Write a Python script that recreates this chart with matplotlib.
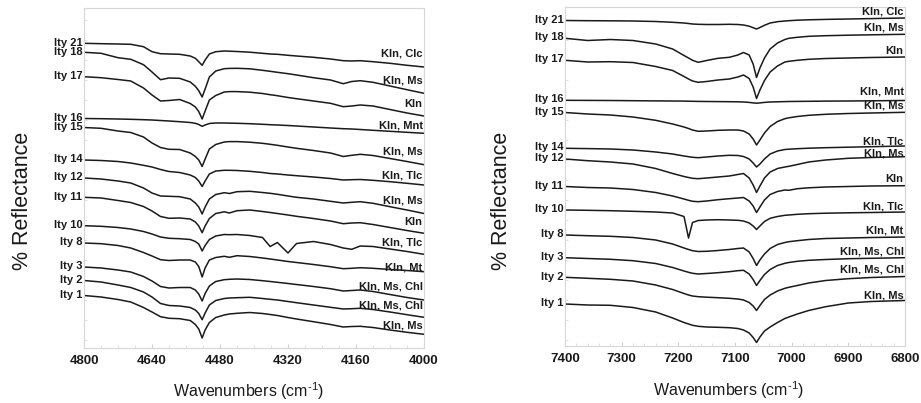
import matplotlib.pyplot as plt
import matplotlib.transforms as mtransforms
from matplotlib.ticker import MultipleLocator, NullFormatter

plt.rcParams["font.family"] = ["Liberation Sans", "DejaVu Sans"]
plt.rcParams["mathtext.fontset"] = "custom"
plt.rcParams["mathtext.rm"] = "Liberation Sans"
plt.rcParams["mathtext.it"] = "Liberation Sans:italic"
plt.rcParams["mathtext.bf"] = "Liberation Sans:bold"

# samples, top to bottom, and the minerals identified in each
samples = ["Ity 21", "Ity 18", "Ity 17", "Ity 16", "Ity 15", "Ity 14", "Ity 12",
           "Ity 11", "Ity 10", "Ity 8", "Ity 3", "Ity 2", "Ity 1"]
minerals = ["Kln, Clc", "Kln, Ms", "Kln", "Kln, Mnt", "Kln, Ms", "Kln, Tlc", "Kln, Ms",
            "Kln", "Kln, Tlc", "Kln, Mt", "Kln, Ms, Chl", "Kln, Ms, Chl", "Kln, Ms"]

# combination band region (cm-1); stacked spectra, offset units from the top of the stack
wn_comb = [4800, 4760, 4720, 4690, 4660, 4640, 4620, 4600, 4575, 4550, 4538, 4530,
           4522, 4515, 4505, 4490, 4470, 4458, 4440, 4410, 4380, 4362, 4345, 4320,
           4300, 4260, 4220, 4190, 4170, 4150, 4120, 4080, 4040, 4000]

ity21_comb = [43.3, 43.7, 44, 44.3, 46.7, 51.7, 53.7, 54, 54.3, 56, 58.3, 61.7, 65.3, 60, 54,
              51.7, 51, 51.2, 51.5, 52.2, 53.3, 54, 54.3, 55.3, 56, 57.3, 59, 60.7, 61,
              60.7, 61.7, 63.3, 65.3, 67]
ity18_comb = [52.3, 53.3, 57.7, 59.3, 64.7, 72, 79.7, 78, 78.3, 82, 86.3, 90.7, 97, 89, 77,
              71, 68.7, 68.4, 68.3, 68.8, 70.3, 71.3, 72.3, 73.7, 75, 77.7, 80, 83.7, 81.5,
              80.7, 82.3, 86, 89.7, 93.3]
ity17_comb = [76.7, 77.7, 79.5, 81, 88, 95, 101, 100.5, 99.5, 103.5, 107, 111.5, 119, 111,
              100, 95.5, 92, 91.6, 91.6, 92.2, 93.5, 94.7, 95.7, 97.5, 98.7, 101, 103.3,
              106.7, 106, 105, 106, 109.5, 113, 116]
ity16_comb = [118.5, 118.7, 119, 119.3, 119.7, 120, 120.5, 121, 121.7, 122.5, 123.3, 124.5,
              126.3, 125, 123.5, 123, 123, 123.1, 123.3, 123.7, 124.3, 124.7, 125, 125.5,
              126, 127, 128, 128.7, 129, 129.5, 130.3, 131.3, 132.3, 133.3]
ity15_comb = [127.5, 128.3, 131, 132.5, 137, 143, 147.5, 149.3, 149.5, 153, 156.5, 160,
              166.5, 159, 149, 144.5, 142, 141.6, 141.6, 142.2, 143.3, 144.3, 145.3, 147,
              148.3, 150.5, 153, 156.5, 155.3, 154.3, 155.5, 158.5, 161.5, 164.7]
ity14_comb = [160, 160.5, 161.5, 163, 165.3, 167, 169.5, 171.5, 172.5, 175, 177.5, 181,
              186.5, 181, 174, 171, 170.3, 170.3, 170.5, 171.3, 172.5, 173.5, 174, 175,
              175.7, 177, 178.5, 180, 179.7, 179.5, 180.3, 181.7, 183.3, 185]
ity12_comb = [178, 179, 181, 183, 188, 193, 196, 196.3, 196.7, 199, 203, 207, 214, 207, 199,
              194.5, 192.7, 193.5, 191.7, 191.3, 192.5, 193.3, 194.3, 196, 197.3, 199,
              201.3, 203, 202.3, 201.7, 203.3, 206.7, 210, 213.5]
ity11_comb = [197.3, 198, 200.5, 202.5, 206.5, 211, 216.5, 218.3, 218, 219, 222, 226, 232.7,
              226, 218.5, 213.5, 211.8, 213, 210.7, 210, 211.5, 212.5, 213.5, 215, 216.3,
              218.5, 221, 223.7, 223, 222.7, 224.5, 227.5, 230.5, 233.3]
ity10_comb = [225.7, 226.3, 227.5, 229, 231.5, 234, 237, 238.3, 238.7, 239.5, 241.5, 244,
              251, 245.5, 239.5, 236, 234.5, 234.7, 234.5, 235.5, 237.5, 246.5, 242.5, 253,
              243.5, 241.5, 244.5, 248, 249.3, 246, 246.5, 249, 251.5, 254.3]
ity8_comb = [243, 243.7, 245.5, 248, 252.5, 256, 259.7, 260.5, 260, 260, 262, 266.5, 277,
             268, 260, 257.5, 256.3, 257.3, 255.7, 256.5, 258, 259, 260, 261.5, 262.5,
             264.5, 266.7, 268.7, 268.3, 267.7, 268.3, 269.5, 270.5, 271.7]
ity3_comb = [267, 268, 270, 272, 276.5, 281, 286.5, 288, 287.5, 287.5, 290, 294, 301, 293.5,
             286, 281.5, 279.7, 279.3, 279, 279.5, 280.7, 281.5, 282.3, 283.5, 284.5, 286.5,
             288.7, 291, 290.5, 290, 291.5, 294.5, 297.5, 300]
ity2_comb = [280.5, 282, 285, 287.5, 292, 297, 303.5, 305.5, 306, 307.5, 310, 313.5, 319.7,
             313, 305, 300.5, 298.5, 298, 297.7, 297.3, 298.5, 299.3, 300, 301.5, 302.7,
             305, 307.3, 309, 308.7, 308.3, 309.5, 312, 314.7, 317.3]
ity1_comb = [295.5, 297, 299.5, 302, 307.5, 312, 316.7, 318.3, 318.7, 320.5, 324.5, 329, 338,
             330, 322.5, 317.5, 315, 314, 313.3, 312.5, 313.5, 314.5, 315.5, 317.5, 319,
             321.7, 324.5, 327, 326.5, 326.3, 327.5, 330, 332.3, 334.3]

# first overtone region (cm-1)
wn_over = [7400, 7360, 7320, 7280, 7240, 7210, 7190, 7182, 7175, 7165, 7150, 7130, 7110,
           7095, 7085, 7075, 7068, 7062, 7056, 7048, 7038, 7025, 7012, 7005, 6990, 6970,
           6940, 6900, 6860, 6800]

ity21_over = [20.5, 20.7, 20.8, 21, 21.5, 22.3, 23, 23.5, 24, 24.3, 24.5, 24.5, 24.3, 24.5,
              25, 26.2, 27.7, 29, 27.5, 25.3, 23, 21.7, 21, 20.7, 20.2, 19.8, 19.4, 19,
              18.6, 18]
ity18_over = [38.3, 40.5, 39.5, 40.5, 44, 49, 55.5, 58, 60.3, 62.3, 60.5, 58.3, 57.3, 55,
              52.5, 55, 64, 77.5, 68, 58, 49, 43, 39.5, 38.3, 37.3, 36.3, 35.7, 35.2, 34.8,
              34.3]
ity17_over = [60.3, 62, 61.7, 62.5, 66.5, 70.5, 76.5, 79, 81, 82.3, 81.5, 80, 79, 77, 75,
              78.5, 87, 98.5, 90, 80.5, 72, 66, 62, 61.3, 60.3, 59.3, 58.5, 58, 57.5, 57]
ity16_over = [100.3, 100.4, 100.5, 100.7, 100.9, 101, 101.1, 101.2, 101.3, 101.4, 101.5,
              101.6, 101.7, 101.8, 102, 102.4, 102.9, 103.2, 102.9, 102.4, 102, 101.8,
              101.6, 101.5, 101.4, 101.3, 101.1, 101, 100.8, 100.5]
ity15_over = [112.5, 114, 115, 117, 120.3, 124, 127, 128.5, 130, 131.3, 131, 130.3, 130,
              130, 131, 134, 139, 145, 140, 133, 126.5, 121.5, 118.7, 117.8, 116.5, 115.3,
              114.3, 113.5, 113, 112.3]
ity14_over = [148.3, 148.6, 149, 150, 152, 154, 156, 156.7, 157.3, 157.7, 157, 156, 155.3,
              155.5, 156.5, 159, 163, 167, 164, 159, 154, 151, 149.5, 149.2, 148.7, 148.2,
              147.7, 147.2, 146.7, 146]
ity12_over = [159, 160.7, 162, 164, 168.5, 173.5, 176.5, 177.5, 178.3, 178.7, 178, 177, 176,
              174.5, 173.5, 178, 185, 192.5, 186, 178, 172, 168.5, 167, 166.3, 164.5, 162,
              160, 158.3, 157.5, 156.7]
ity11_over = [186.5, 187.5, 188, 189.5, 192.5, 196, 199, 200.3, 201.3, 201.7, 201, 199.7,
              198.7, 198, 197.5, 201, 206, 212.5, 207, 200, 194.5, 191.5, 190, 190.3, 188.7,
              187.8, 187, 186.5, 186, 185.7]
ity10_over = [210, 210.3, 210.7, 211.3, 212, 213, 216.5, 238, 222.5, 220.5, 220, 219.7, 220,
              220.3, 221, 223, 226, 229.5, 226, 221.5, 218.3, 216.5, 215.3, 215, 214.3,
              213.7, 213.2, 212.8, 212.5, 212]
ity8_over = [235, 235.7, 236.3, 237.5, 240, 244, 248, 249.5, 250.7, 251.5, 251.3, 250.5,
             249.5, 248.5, 248, 252, 258.5, 265.5, 260, 254, 248.5, 244.5, 242.5, 241.7,
             240.7, 239.5, 238.5, 238, 237.5, 237]
ity3_over = [257.7, 258.5, 259.3, 260.7, 263.5, 267.5, 271, 272.3, 273.3, 274, 273.5, 272.7,
             271.7, 270.7, 270.3, 274, 279.5, 285.5, 280.5, 274.5, 269.5, 265.5, 263.3,
             262.5, 261.3, 260.3, 259.5, 258.7, 258.3, 257.7]
ity2_over = [277.3, 278.3, 279.3, 281, 285, 289.5, 293.5, 295, 296, 296.7, 297.2, 297.7,
             298.3, 299, 300, 302.5, 306, 310.5, 305.5, 299.5, 295, 291, 288.3, 287.3,
             285.5, 283, 280.5, 278.7, 277.5, 276.5]
ity1_over = [304, 305, 305.3, 307.5, 312, 318, 322.5, 324, 325.3, 326.3, 327, 327.3, 327.7,
             328.5, 330, 333, 337.5, 342.5, 337, 331, 327, 322.5, 318.5, 317, 314, 310.5,
             306.7, 303, 301.5, 300.5]

comb = [ity21_comb, ity18_comb, ity17_comb, ity16_comb, ity15_comb, ity14_comb, ity12_comb,
        ity11_comb, ity10_comb, ity8_comb, ity3_comb, ity2_comb, ity1_comb]
over = [ity21_over, ity18_over, ity17_over, ity16_over, ity15_over, ity14_over, ity12_over,
        ity11_over, ity10_over, ity8_over, ity3_over, ity2_over, ity1_over]

# how far each mineral tag sits above the end of its trace
lift_comb = [14, 13, 12, 8, 13, 10, 13, 11, 12, 4.5, 14, 12, 9]
lift_over = [6, 6.5, 5.5, 9.5, 7, 4.5, 3.5, 6.5, 5.5, 6.5, 6, 6.5, 5.5]

INK = "#1a1a1a"


def draw_panel(ax, wn, spectra, lift, xlim, ylim, major, minor):
    trans = mtransforms.blended_transform_factory(ax.transAxes, ax.transData)
    for name, tag, y, up in zip(samples, minerals, spectra, lift):
        ax.plot(wn, y, color=INK, lw=1.1, solid_joinstyle="round")
        ax.text(-0.005, y[0] - 0.8, name, transform=trans, ha="right", va="center",
                fontsize=8, fontweight="bold", color=INK)
        ax.text(0.996, y[-1] - up, tag, transform=trans, ha="right", va="center",
                fontsize=8, fontweight="bold", color=INK)

    ax.set_xlim(*xlim)
    ax.set_ylim(*ylim)
    ax.xaxis.set_major_locator(MultipleLocator(major))
    ax.xaxis.set_minor_locator(MultipleLocator(minor))
    ax.yaxis.set_minor_locator(MultipleLocator(20))
    ax.yaxis.set_major_locator(MultipleLocator(1000))
    ax.yaxis.set_minor_formatter(NullFormatter())
    ax.tick_params(axis="x", which="major", direction="in", length=3, color="#cfcfcf",
                   pad=5, labelsize=9.5, labelcolor=INK)
    ax.tick_params(axis="both", which="minor", direction="in", length=2, color="#dcdcdc")
    ax.tick_params(axis="y", which="major", left=False, labelleft=False)
    for lbl in ax.get_xticklabels():
        lbl.set_fontweight("bold")
    for sp in ax.spines.values():
        sp.set_color("#d6d6d6")
        sp.set_linewidth(0.8)


fig = plt.figure(figsize=(9.21, 4.03), dpi=100)
ax_l = fig.add_axes([84 / 921, 1 - 348 / 403, 340 / 921, 340 / 403])
ax_r = fig.add_axes([565 / 921, 1 - 346 / 403, 340 / 921, 339 / 403])

draw_panel(ax_l, wn_comb, comb, lift_comb, (4800, 4000), (348, 8), 160, 40)
draw_panel(ax_r, wn_over, over, lift_over, (7400, 6800), (346, 7), 100, 20)

xlab = r"Wavenumbers (cm$^{\text{-1}}$)"
fig.text(249 / 921, 1 - 391 / 403, xlab, ha="center", va="center", fontsize=11.5,
         color=INK)
fig.text(729 / 921, 1 - 390 / 403, xlab, ha="center", va="center", fontsize=11.5,
         color=INK)
fig.text(23 / 921, 1 - 201 / 403, "% Reflectance", rotation=90, ha="center",
         va="center", fontsize=15.5, color=INK)
fig.text(501 / 921, 1 - 201 / 403, "% Reflectance", rotation=90, ha="center",
         va="center", fontsize=15.5, color=INK)

fig.savefig("out.png", dpi=100)
